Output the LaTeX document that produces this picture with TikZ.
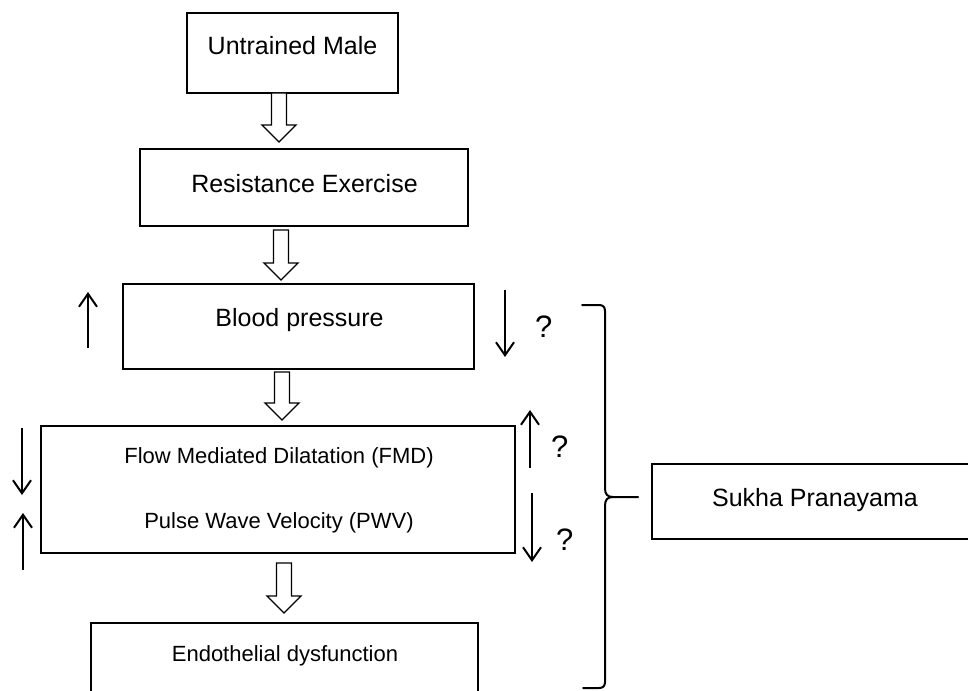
\documentclass[tikz,border=0pt]{standalone}
\usepackage{fontspec}
\setmainfont{Liberation Sans}
\usetikzlibrary{arrows.meta,calc}
\newcommand{\blockarr}[2]{%
  \draw[blk] ($(#1)+(-7.5,0)$) -- ($(#2)+(-7.5,-17)$) -- ($(#2)+(-17,-17)$) -- (#2)
    -- ($(#2)+(17,-17)$) -- ($(#2)+(7.5,-17)$) -- ($(#1)+(7.5,0)$) -- cycle;}
\begin{document}
\begin{tikzpicture}[x=1pt,y=-1pt,
  box/.style={draw,line width=1.8pt,inner sep=0pt,outer sep=0pt},
  lbl/.style={anchor=base,inner sep=0pt,font=\fontsize{25}{30}\selectfont},
  slbl/.style={anchor=base,inner sep=0pt,font=\fontsize{22}{26}\selectfont},
  qm/.style={anchor=base west,inner sep=0pt,font=\fontsize{31}{36}\selectfont},
  blk/.style={draw,line width=1.3pt,fill=white,line join=miter},
  sarr/.style={line width=2pt,-{Straight Barb[length=13pt,width=18pt,line width=2pt]}},
  brk/.style={line width=2pt,line cap=round,line join=round}]
\useasboundingbox (0,0) rectangle (968,690);
\clip (0,0) rectangle (968,690);
\fill[white] (0,0) rectangle (968,690);
% boxes
\node[box,minimum width=211pt,minimum height=80pt] (um) at (292.5,53) {};
\node[box,minimum width=328pt,minimum height=77pt] (re) at (304,187.5) {};
\node[box,minimum width=351pt,minimum height=85pt] (bp) at (298.5,326.5) {};
\node[box,minimum width=474pt,minimum height=127pt] (fm) at (278,489.5) {};
\node[box,minimum width=387pt,minimum height=87pt] (ed) at (284.5,666.5) {};
\node[box,minimum width=328pt,minimum height=75pt] (sp) at (816,501.5) {};
% labels
\node[lbl] (tum) at (292.5,55) {Untrained Male};
\node[lbl] (tre) at (304.5,192) {Resistance Exercise};
\node[lbl] (tbp) at (299.5,326) {Blood pressure};
\node[slbl] (tfm) at (279,463) {Flow Mediated Dilatation (FMD)};
\node[slbl] (tpw) at (279,528) {Pulse Wave Velocity (PWV)};
\node[slbl] (ted) at (285,661) {Endothelial dysfunction};
\node[lbl] (tsp) at (815,506) {Sukha Pranayama};
% block arrows
\coordinate (a1t) at (um.south -| 279,0);
\coordinate (a1e) at ($(re.north -| 279,0)+(0,-7)$);
\coordinate (a2t) at ($(re.south -| 281,0)+(0,4)$);
\coordinate (a2e) at ($(bp.north -| 281,0)+(0,-4)$);
\coordinate (a3t) at ($(bp.south -| 282,0)+(0,3)$);
\coordinate (a3e) at ($(fm.north -| 282,0)+(0,-6)$);
\coordinate (a4t) at ($(fm.south -| 284,0)+(0,10)$);
\coordinate (a4e) at ($(ed.north -| 284,0)+(0,-10)$);
\blockarr{a1t}{a1e}
\blockarr{a2t}{a2e}
\blockarr{a3t}{a3e}
\blockarr{a4t}{a4e}
% small arrows
\coordinate (u1a) at (88,348); \coordinate (u1b) at (88,292);
\coordinate (d1a) at (505,290); \coordinate (d1b) at (505,357);
\coordinate (d2a) at (22,428); \coordinate (d2b) at (22,495);
\coordinate (u2a) at (23,570); \coordinate (u2b) at (23,513);
\coordinate (u3a) at (530,468); \coordinate (u3b) at (530,410);
\coordinate (d3a) at (532,493); \coordinate (d3b) at (532,562);
\draw[sarr] (u1a) -- (u1b);
\draw[sarr] (d1a) -- (d1b);
\draw[sarr] (d2a) -- (d2b);
\draw[sarr] (u2a) -- (u2b);
\draw[sarr] (u3a) -- (u3b);
\draw[sarr] (d3a) -- (d3b);
% question marks
\node[qm] (q1) at (535,337) {?};
\node[qm] (q2) at (551,457) {?};
\node[qm] (q3) at (556,550) {?};
% bracket
\coordinate (cusp) at (613,497);
\draw[brk] (582,305) -- (599,305) .. controls (603,305) and (605,307) .. (605,311)
  -- (605,488) .. controls (605,494) and (607,497) .. (cusp) -- (638,497);
\draw[brk] (cusp) .. controls (607,497) and (605,500) .. (605,506)
  -- (605,682) .. controls (605,686) and (603,688) .. (599,688) -- (583,688);
\end{tikzpicture}
\end{document}
